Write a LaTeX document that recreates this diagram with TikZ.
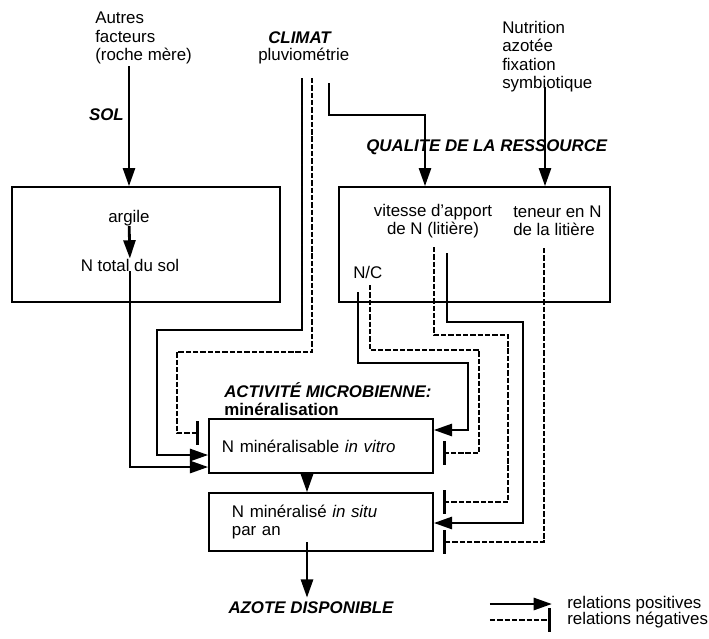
\documentclass[tikz,border=0pt]{standalone}
\usepackage{fontspec}
\setmainfont{Liberation Sans}
\usetikzlibrary{arrows.meta}

\begin{document}
\begin{tikzpicture}[x=0.025cm, y=-0.025cm,
        lab/.style={inner sep=0pt, font=\fontsize{12}{13}\selectfont},
        titre/.style={lab, font=\fontsize{12}{13}\selectfont\bfseries\itshape},
        gras/.style={lab, font=\fontsize{12}{13}\selectfont\bfseries},
        cadre/.style={draw, line width=1pt, inner sep=0pt},
        relpos/.style={line width=2pt, -{Triangle[length=13pt, width=8.5pt]}},
        relneg/.style={line width=2pt, dash pattern=on 3.8pt off 1.4pt,
            -{Bar[width=17pt, line width=2.4pt]}}]
        \useasboundingbox (0,0) rectangle (709,638);

        % Facteurs en haut
        \node (autres) [lab, anchor=north west, align=left] at (95,12) {Autres\\facteurs\\(roche mère)};
        \node (climat) [titre, anchor=west] at (268,38) {CLIMAT};
        \node (pluvio) [lab, anchor=west] at (258,56) {pluviométrie};
        \node (nutri) [lab, anchor=north west, align=left] at (502,21) {Nutrition\\azotée\\fixation\\symbiotique};
        \node (sol) [titre, anchor=east] at (124,115) {SOL};
        \node (qualite) [titre, anchor=west] at (366,147) {QUALITE DE LA RESSOURCE};

        % Boites sol et ressource
        \node (boxsol) [cadre, minimum width=6.7cm, minimum height=2.875cm] at (146,244.5) {};
        \node (argile) [lab] at (129,218) {argile};
        \node (ntot) [lab] at (130,265) {N total du sol};
        \node (boxres) [cadre, minimum width=6.775cm, minimum height=2.875cm] at (474.5,244.5) {};
        \node (vitesse) [lab, align=center] at (433,221) {vitesse d'apport\\de N (litière)};
        \node (teneur) [lab, anchor=west, align=left] at (513,221) {teneur en N\\de la litière};
        \node (nc) [lab, anchor=west] at (353,272) {N/C};

        % Activite microbienne
        \node (activite) [gras, anchor=north west, align=left] at (224,382) {\itshape ACTIVITÉ MICROBIENNE:\\minéralisation};
        \node (vitro) [cadre, lab, draw, minimum height=1.35cm, text width=4.95cm,
            inner xsep=0.325cm, align=left] at (321,446) {N minéralisable \textit{in vitro}};
        \node (situ) [cadre, lab, draw, minimum height=1.45cm, text width=4.45cm,
            inner xsep=0.575cm, align=left] at (321,522) {N minéralisé \textit{in situ}\\par an};
        \node (azote) [titre] at (311,608) {AZOTE DISPONIBLE};

        % Legende
        \node (lpos) [lab, anchor=west] at (567,604) {relations positives};
        \node (lneg) [lab, anchor=west] at (567,620) {relations négatives};

        % Departs des fleches
        \coordinate (sol0) at (129,66);
        \coordinate (cl1) at (302,78);
        \coordinate (cl2) at (312,78);
        \coordinate (cl3) at (329,83);
        \coordinate (nu) at (545,87);
        \coordinate (nc1) at (358,292);
        \coordinate (nc2) at (370,285);
        \coordinate (vi1) at (434,247);
        \coordinate (vi2) at (447,253);
        \coordinate (te) at (544,248);
        \coordinate (sa) at (307,542);

        % Fleches
        \draw[relpos] (sol0) -- (sol0 |- boxsol.north);
        \draw[relpos] (argile) -- (ntot);
        \draw[relpos] (ntot) |- ([yshift=-0.525cm]vitro.west);
        \draw[relpos] (cl1) |- (157,330) |- ([yshift=-0.225cm]vitro.west);
        \draw[relneg] (cl2) |- (177,352) |- ([xshift=-0.225cm,yshift=0.325cm]vitro.west);
        \draw[relpos] (cl3) |- (425,115) -- (425,115 |- boxres.north);
        \draw[relpos] (nu) -- (nu |- boxres.north);
        \draw[relpos] (nc1) |- (468,363) |- ([yshift=0.4cm]vitro.east);
        \draw[relneg] (nc2) |- (479,350) |- ([xshift=0.225cm,yshift=-0.175cm]vitro.east);
        \draw[relneg] (vi1) |- (508,335) |- ([xshift=0.225cm,yshift=0.5cm]situ.east);
        \draw[relpos] (vi2) |- (523,322) |- ([yshift=-0.025cm]situ.east);
        \draw[relneg] (te) |- ([xshift=0.225cm,yshift=-0.5cm]situ.east);
        \draw[relpos] ([xshift=-0.35cm]vitro.south) -- ([xshift=-0.35cm]situ.north);
        \draw[relpos] (sa) -- ([yshift=0.1cm]sa |- azote.north);

        \draw[relpos] ([xshift=-1.925cm]lpos.west) -- ([xshift=-0.375cm]lpos.west);
        \draw[relneg] ([xshift=-1.925cm]lneg.west) -- ([xshift=-0.4cm]lneg.west);

    \end{tikzpicture}
\end{document}
